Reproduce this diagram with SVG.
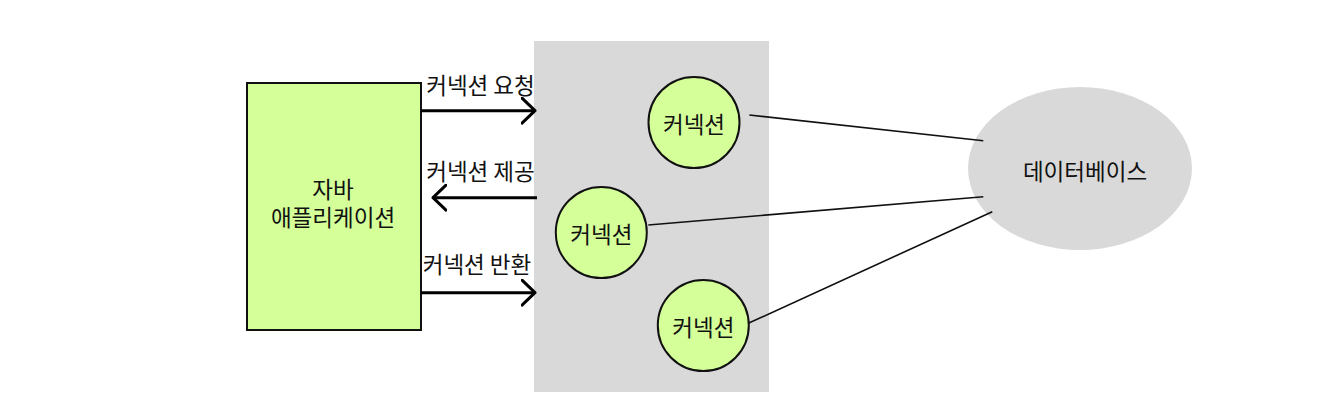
<svg xmlns="http://www.w3.org/2000/svg" width="1320" height="410" viewBox="0 0 1320 410">
<defs>
<style>
text{font-family:"Noto Sans CJK KR","Noto Sans",sans-serif;font-size:22.5px;fill:#111;}
.node{fill:#d4ff99;stroke:#111;stroke-width:2;}
.arrow{fill:none;stroke:#000;stroke-width:3;}
.link{fill:none;stroke:#111;stroke-width:1.6;}
</style>
<marker id="chev" markerUnits="userSpaceOnUse" viewBox="0 0 16 28" refX="14" refY="14" markerWidth="16" markerHeight="28" orient="auto">
<path d="M1,1.5 L14,14 L1,26.5" fill="none" stroke="#000" stroke-width="3" stroke-linecap="round" stroke-linejoin="round"/>
</marker>
</defs>
<rect width="1320" height="410" fill="#fff"/>
<g id="pool">
<rect x="534" y="41" width="235" height="351" fill="#d9d9d9"/>
</g>
<g id="db">
<ellipse cx="1080" cy="168.5" rx="112" ry="81.5" fill="#d9d9d9"/>
<text x="1085" y="180" text-anchor="middle">데이터베이스</text>
</g>
<g id="app">
<rect class="node" x="247" y="83" width="174" height="247"/>
<text x="333" y="198" text-anchor="middle">자바</text>
<text x="333" y="226" text-anchor="middle">애플리케이션</text>
</g>
<g id="conn1">
<circle class="node" cx="694" cy="122.5" r="45.5"/>
<text x="694" y="133" text-anchor="middle">커넥션</text>
</g>
<g id="conn2">
<circle class="node" cx="601.3" cy="232.5" r="45.5"/>
<text x="601.3" y="243" text-anchor="middle">커넥션</text>
</g>
<g id="conn3">
<circle class="node" cx="703.3" cy="325.5" r="45.5"/>
<text x="703.3" y="336" text-anchor="middle">커넥션</text>
</g>
<g id="connectors">
<line class="arrow" x1="421" y1="110.7" x2="535" y2="110.7" marker-end="url(#chev)"/>
<line class="arrow" x1="537" y1="197.7" x2="433" y2="197.7" marker-end="url(#chev)"/>
<line class="arrow" x1="421" y1="292.7" x2="535" y2="292.7" marker-end="url(#chev)"/>
<line class="link" x1="749.3" y1="115" x2="983.3" y2="140.7"/>
<line class="link" x1="648.3" y1="225" x2="983.3" y2="196.7"/>
<line class="link" x1="748.3" y1="323.3" x2="992.3" y2="211.7"/>
<text x="480.5" y="94" text-anchor="middle">커넥션 요청</text>
<text x="480.5" y="180" text-anchor="middle">커넥션 제공</text>
<text x="477" y="273" text-anchor="middle">커넥션 반환</text>
</g>
</svg>
